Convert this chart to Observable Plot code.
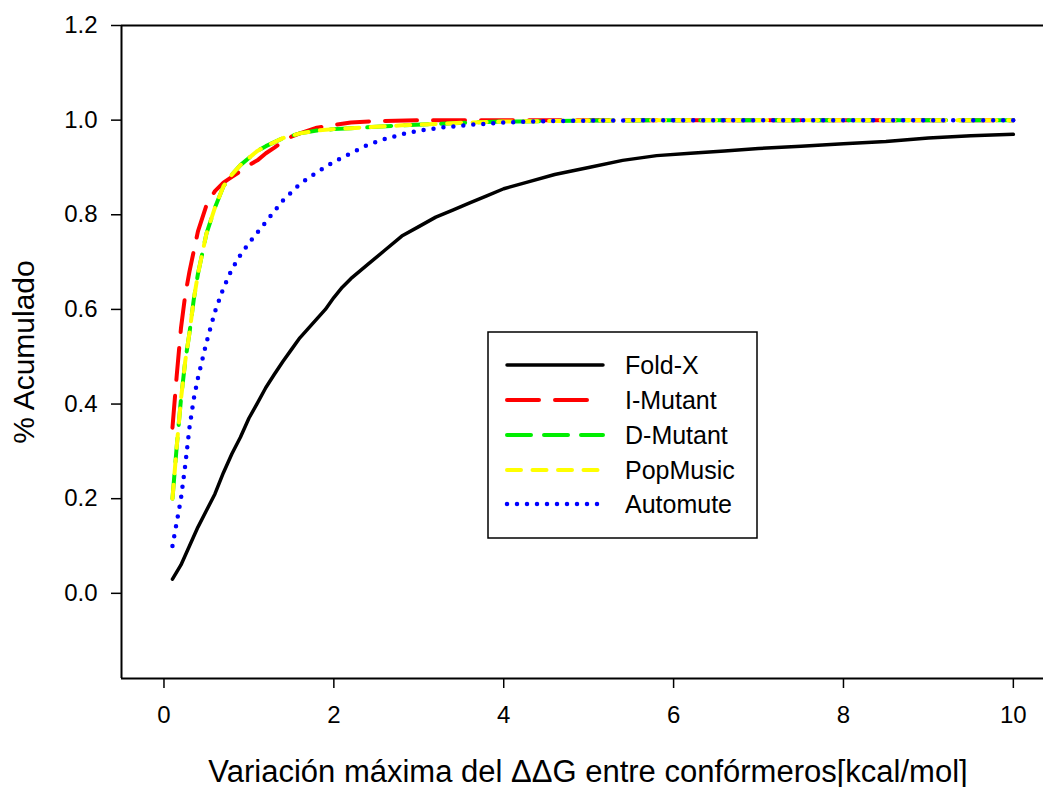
<!DOCTYPE html>
<html>
<head>
<meta charset="utf-8">
<script src="https://cdn.jsdelivr.net/npm/d3@7"></script>
<script src="https://cdn.jsdelivr.net/npm/@observablehq/plot@0.6"></script>
<style>
  html, body { margin: 0; padding: 0; background: #fff; }
  #chart svg { display: block; }
  #chart g[aria-label$="tick"] { stroke-width: 1.5px; }
</style>
</head>
<body>
<div id="chart"></div>
<script>
// ---- data ----
const seriesNames = ["Fold-X", "I-Mutant", "D-Mutant", "PopMusic", "Automute"];

const foldX_x = [0.1,0.2,0.3,0.4,0.5,0.6,0.7,0.8,0.9,1.0,1.1,1.2,1.3,1.4,1.5,1.6,1.7,1.8,1.9,2.0,2.1,2.2,2.4,2.6,2.8,3.0,3.2,3.4,3.6,3.8,4.0,4.3,4.6,5.0,5.4,5.8,6.2,6.6,7.0,7.5,8.0,8.5,9.0,9.5,10];
const foldX_y = [0.03,0.06,0.10,0.14,0.175,0.21,0.255,0.295,0.33,0.37,0.402,0.435,0.463,0.49,0.515,0.54,0.56,0.58,0.6,0.625,0.647,0.665,0.695,0.725,0.755,0.775,0.795,0.81,0.825,0.84,0.855,0.87,0.885,0.90,0.915,0.925,0.93,0.935,0.94,0.945,0.95,0.955,0.962,0.967,0.97];

const iMutant_x = [0.1,0.15,0.2,0.25,0.3,0.4,0.5,0.6,0.7,0.8,0.9,1.0,1.1,1.2,1.3,1.4,1.5,1.6,1.8,2.0,2.2,2.5,3.0,4.0,5,6,7,8,9,10];
const iMutant_y = [0.35,0.46,0.56,0.63,0.68,0.765,0.82,0.85,0.868,0.88,0.892,0.905,0.915,0.93,0.942,0.955,0.965,0.972,0.984,0.99,0.995,0.998,1.0,1.0,1,1,1,1,1,1];

const dMutant_x = [0.1,0.15,0.2,0.25,0.3,0.35,0.4,0.5,0.6,0.7,0.8,0.9,1.0,1.1,1.2,1.4,1.6,1.8,2.0,2.2,2.5,2.8,3.2,3.6,4.0,5,6,7,8,9,10];
const dMutant_y = [0.2,0.31,0.41,0.49,0.55,0.62,0.675,0.76,0.815,0.86,0.885,0.905,0.92,0.935,0.945,0.962,0.972,0.978,0.981,0.983,0.986,0.989,0.992,0.995,0.997,0.999,1,1,1,1,1];

const popMusic_x = [0.1,0.15,0.2,0.25,0.3,0.35,0.4,0.5,0.6,0.7,0.8,0.9,1.0,1.1,1.2,1.4,1.6,1.8,2.0,2.2,2.5,2.8,3.2,3.6,4.0,5,6,7,8,9,10];
const popMusic_y = [0.2,0.31,0.41,0.49,0.55,0.62,0.675,0.76,0.815,0.86,0.885,0.905,0.92,0.935,0.945,0.962,0.972,0.978,0.981,0.983,0.986,0.989,0.992,0.995,0.997,0.999,1,1,1,1,1];

const automute_x = [0.1,0.15,0.2,0.25,0.3,0.35,0.4,0.5,0.6,0.7,0.8,0.9,1.0,1.2,1.4,1.6,1.8,2.0,2.2,2.4,2.6,2.8,3.0,3.3,3.6,4.0,4.5,5,6,7,8,9,10];
const automute_y = [0.1,0.15,0.2,0.27,0.35,0.41,0.455,0.53,0.595,0.645,0.685,0.715,0.74,0.785,0.83,0.865,0.89,0.912,0.93,0.948,0.96,0.97,0.978,0.985,0.99,0.995,0.998,0.999,1,1,1,1,1];

const xTicks = [0, 2, 4, 6, 8, 10];
const yTicks = [0.0, 0.2, 0.4, 0.6, 0.8, 1.0, 1.2];
const xLabel = "Variación máxima del \u0394\u0394G entre confórmeros[kcal/mol]";
const yLabel = "% Acumulado";

// ---- styles ----
const styles = [
  {stroke: "#000000", strokeWidth: 3.5, dash: null, cap: "round"},
  {stroke: "#ff0000", strokeWidth: 4, dash: "32,16", cap: "round"},
  {stroke: "#00ee00", strokeWidth: 4, dash: "24,13", cap: "round"},
  {stroke: "#ffff00", strokeWidth: 4, dash: "14,11.5", cap: "round"},
  {stroke: "#0000ff", strokeWidth: 4.5, dash: "0,10", cap: "round"}
];

const xs = [foldX_x, iMutant_x, dMutant_x, popMusic_x, automute_x];
const ys = [foldX_y, iMutant_y, dMutant_y, popMusic_y, automute_y];
const tables = seriesNames.map((name, i) => xs[i].map((x, j) => ({series: name, x, y: ys[i][j]})));

const lineMarks = tables.map((t, i) => Plot.line(t, {
  x: "x", y: "y",
  stroke: styles[i].stroke,
  strokeWidth: styles[i].strokeWidth,
  strokeDasharray: styles[i].dash,
  strokeLinecap: styles[i].cap,
  strokeLinejoin: "round"
}));

const chart = Plot.plot({
  width: 1043,
  height: 787,
  marginLeft: 121,
  marginRight: 0,
  marginTop: 25,
  marginBottom: 109,
  style: {fontFamily: "'Liberation Sans', Arial, sans-serif", fontSize: "24px", color: "#000", background: "#fff", overflow: "visible"},
  x: {domain: [-0.5, 10.355], ticks: xTicks, tickSize: 10, tickPadding: 17, label: null, tickFormat: d3.format("d")},
  y: {domain: [-0.18, 1.2], ticks: yTicks, tickSize: 10, tickPadding: 14, label: null, tickFormat: d3.format(".1f")},
  marks: [
    Plot.ruleY([1.2, -0.18], {stroke: "#000", strokeWidth: 2}),
    Plot.ruleX([-0.5], {stroke: "#000", strokeWidth: 2}),
    ...lineMarks
  ]
});

document.getElementById("chart").appendChild(chart);

const svg = d3.select(chart);
// axis titles
svg.append("text")
  .attr("x", 588).attr("y", 782)
  .attr("text-anchor", "middle")
  .attr("font-size", 31)
  .attr("font-family", "'Liberation Sans', Arial, sans-serif")
  .attr("fill", "#000")
  .text(xLabel);
svg.append("text")
  .attr("transform", "translate(34,352) rotate(-90)")
  .attr("text-anchor", "middle")
  .attr("font-size", 30)
  .attr("font-family", "'Liberation Sans', Arial, sans-serif")
  .attr("fill", "#000")
  .text(yLabel);

// legend
const lg = svg.append("g").attr("class", "legend").attr("text-anchor", "start");
lg.append("rect").attr("x", 488).attr("y", 332).attr("width", 269).attr("height", 206)
  .attr("fill", "#fff").attr("stroke", "#000").attr("stroke-width", 1.5);
const rowY = [365, 400, 435, 470, 504];
seriesNames.forEach((name, i) => {
  const s = styles[i];
  lg.append("line").attr("x1", 507).attr("x2", 603).attr("y1", rowY[i]).attr("y2", rowY[i])
    .attr("stroke", s.stroke).attr("stroke-width", s.strokeWidth)
    .attr("stroke-dasharray", s.dash).attr("stroke-linecap", s.cap);
  lg.append("text").attr("x", 625).attr("y", rowY[i]).attr("dy", "0.35em")
    .attr("text-anchor", "start")
    .attr("font-size", 25).attr("font-family", "'Liberation Sans', Arial, sans-serif")
    .attr("fill", "#000").text(name);
});
</script>
</body>
</html>
